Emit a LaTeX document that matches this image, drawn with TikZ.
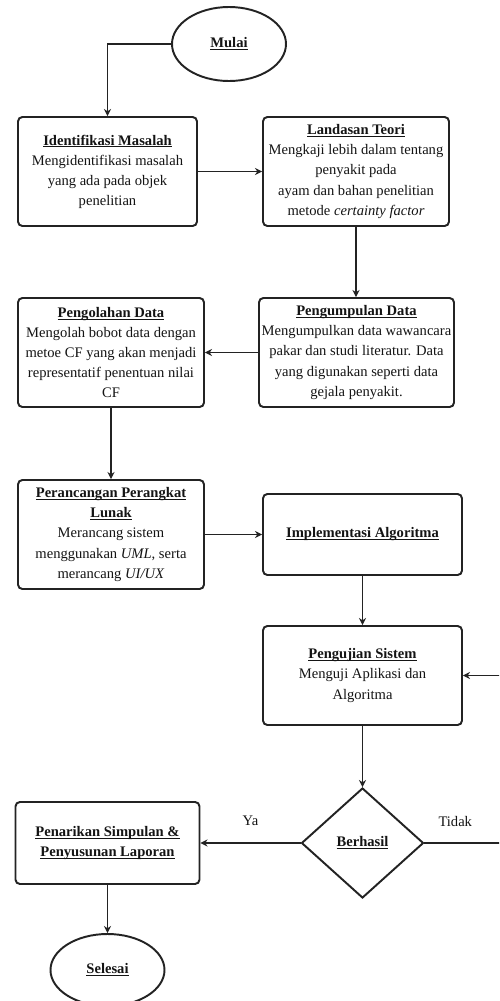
\documentclass[tikz,border=0pt]{standalone}
\usepackage{fontspec}
\setmainfont{Liberation Serif}
\usetikzlibrary{arrows.meta,shapes.geometric}
\definecolor{flowbg}{RGB}{255,255,255}
\definecolor{flowink}{RGB}{20,20,20}
\definecolor{flowline}{RGB}{35,35,35}
\newcommand{\steptitle}[1]{\setbox0\hbox{\textbf{#1}}\rlap{\rule[-1.3pt]{\wd0}{0.5pt}}\box0}

\begin{document}
\begin{tikzpicture}[
  font=\fontsize{8.3}{11.4}\selectfont,
  flow/.style={-{Stealth[length=4pt,width=4pt]}, line width=0.6pt, draw=flowline},
  procbox/.style={draw=flowline, line width=1.1pt, rounded corners=2.5pt, align=center, text=flowink, inner sep=1pt},
  terminal/.style={ellipse, draw=flowline, line width=1.1pt, text=flowink, inner sep=0pt},
  decision/.style={diamond, draw=flowline, line width=1.1pt, text=flowink, inner sep=0pt},
  branch/.style={text=flowink}
]
\useasboundingbox (0,0) rectangle (9.98,-20.02);
\clip (0,0) rectangle (9.98,-20.02);
\fill[flowbg] (0,0) rectangle (9.98,-20.02);

\node[terminal, minimum width=2.28cm, minimum height=1.48cm] (mulai) at (4.58,-0.88) {\steptitle{Mulai}};
\node[procbox, minimum width=3.58cm, minimum height=2.18cm] (identifikasi) at (2.15,-3.43) {\steptitle{Identifikasi Masalah}\\Mengidentifikasi masalah\\yang ada pada objek\\penelitian};
\node[procbox, minimum width=3.72cm, minimum height=2.18cm] (landasan) at (7.12,-3.43) {\steptitle{Landasan Teori}\\Mengkaji lebih dalam tentang\\penyakit pada\\ayam dan bahan penelitian\\metode \textit{certainty factor}};
\node[procbox, minimum width=3.90cm, minimum height=2.18cm] (pengumpulan) at (7.13,-7.05) {\steptitle{Pengumpulan Data}\\Mengumpulkan data wawancara\\pakar dan studi literatur. Data\\yang digunakan seperti data\\gejala penyakit.};
\node[procbox, minimum width=3.72cm, minimum height=2.18cm] (pengolahan) at (2.22,-7.05) {\steptitle{Pengolahan Data}\\Mengolah bobot data dengan\\metoe CF yang akan menjadi\\representatif penentuan nilai\\CF};
\node[procbox, minimum width=3.72cm, minimum height=2.18cm] (perancangan) at (2.22,-10.69) {\steptitle{Perancangan Perangkat}\\\steptitle{Lunak}\\Merancang sistem\\menggunakan \textit{UML}, serta\\merancang \textit{UI/UX}};
\node[procbox, minimum width=3.98cm, minimum height=1.62cm] (implementasi) at (7.25,-10.69) {\steptitle{Implementasi Algoritma}};
\node[procbox, minimum width=3.98cm, minimum height=1.98cm] (pengujian) at (7.25,-13.51) {\steptitle{Pengujian Sistem}\\Menguji Aplikasi dan\\Algoritma};
\node[decision, minimum width=2.44cm, minimum height=2.20cm] (berhasil) at (7.25,-16.86) {\steptitle{Berhasil}};
\node[procbox, minimum width=3.68cm, minimum height=1.64cm] (penarikan) at (2.15,-16.86) {\steptitle{Penarikan Simpulan \&}\\\steptitle{Penyusunan Laporan}};
\node[terminal, minimum width=2.28cm, minimum height=1.44cm] (selesai) at (2.15,-19.40) {\steptitle{Selesai}};
\coordinate (balik) at (10.2,-16.86);

\draw[flow] (mulai.west) -| (identifikasi.north);
\draw[flow] (identifikasi.east) -- (landasan.west);
\draw[flow] (landasan.south) -- (landasan.south |- pengumpulan.north);
\draw[flow] (pengumpulan.west) -- (pengolahan.east);
\draw[flow] (pengolahan.south) -- (perancangan.north);
\draw[flow] (perancangan.east) -- (implementasi.west);
\draw[flow] (implementasi.south) -- (pengujian.north);
\draw[flow] (pengujian.south) -- (berhasil.north);
\draw[flow] (berhasil.west) -- node[branch, midway, yshift=0.44cm] {Ya} (penarikan.east);
\draw[flow] (berhasil.east) -- node[branch, pos=0.36, yshift=0.44cm] {Tidak} (balik) |- (pengujian.east);
\draw[flow] (penarikan.south) -- (selesai.north);
\end{tikzpicture}
\end{document}
